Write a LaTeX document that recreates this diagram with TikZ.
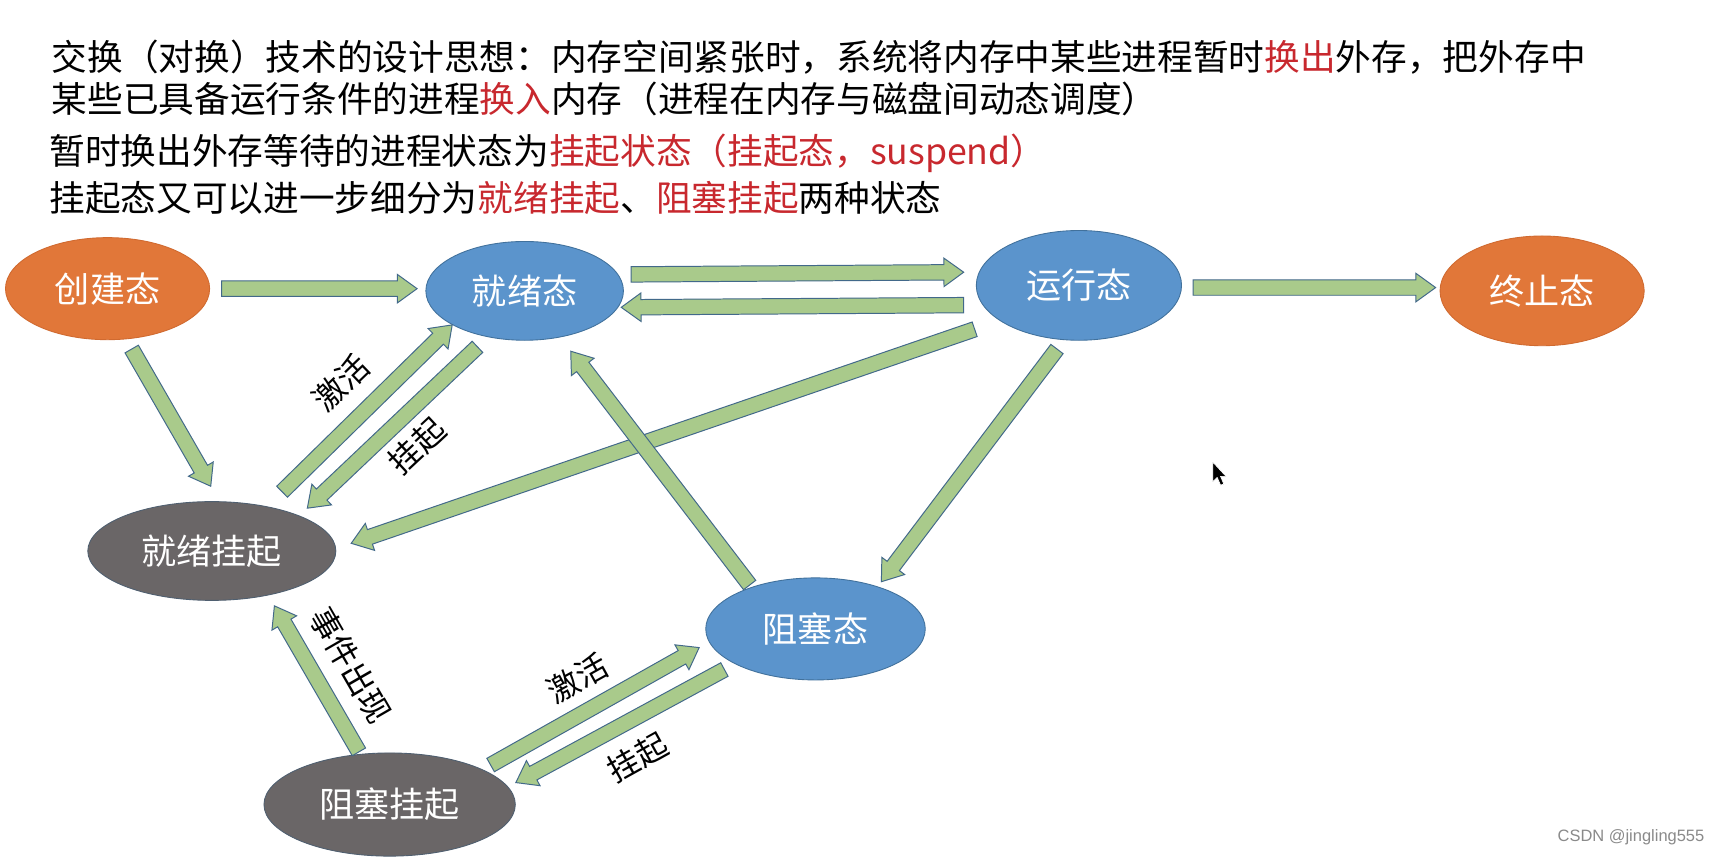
\documentclass[tikz,border=0pt]{standalone}
\usepackage{fontspec}
\setmainfont{Noto Sans CJK SC}
\newfontfamily\wmfont{Liberation Sans}
\usetikzlibrary{shapes.geometric,calc}
\definecolor{orangeS}{HTML}{E17739}
\definecolor{orangeL}{HTML}{D06A30}
\definecolor{blueS}{HTML}{5B94CC}
\definecolor{blueL}{HTML}{41719C}
\definecolor{grayS}{HTML}{6A6667}
\definecolor{grayL}{HTML}{4F5F70}
\definecolor{arrowfill}{HTML}{A9CA8B}
\definecolor{arrowline}{HTML}{42698A}
\definecolor{redS}{HTML}{C8282E}
\definecolor{wmgray}{HTML}{8A8A8A}
\tikzset{
  st/.style={ellipse, inner sep=0pt, line width=0.8pt, text=white,
    font=\fontsize{32}{34}\selectfont},
  stO/.style={st, fill=orangeS, draw=orangeL},
  stB/.style={st, fill=blueS, draw=blueL},
  stG/.style={st, fill=grayS, draw=grayL},
  toptext/.style={anchor=west, inner sep=0pt, font=\fontsize{32.5}{34}\selectfont},
  lab/.style={inner sep=0pt, font=\fontsize{29}{31}\selectfont},
  barrow/.style={draw=arrowline, fill=arrowfill, line width=0.9pt, line join=miter,
    to path={let \p1=(\tikztostart), \p2=(\tikztotarget),
      \n1={atan2(\y2-\y1,\x2-\x1)}, \n2={veclen(\x2-\x1,\y2-\y1)} in
      ($(\p1)+(\n1+90:7pt)$) -- ($(\p1)+(\n1:{\n2-18pt})+(\n1+90:7pt)$)
      -- ($(\p1)+(\n1:{\n2-18pt})+(\n1+90:13pt)$) -- (\p2)
      -- ($(\p1)+(\n1:{\n2-18pt})+(\n1-90:13pt)$)
      -- ($(\p1)+(\n1:{\n2-18pt})+(\n1-90:7pt)$)
      -- ($(\p1)+(\n1-90:7pt)$) -- cycle}}
}
\begin{document}
\begin{tikzpicture}[x=1pt,y=-1pt]
\fill[white] (0,0) rectangle (1568,782);
\useasboundingbox (0,0) rectangle (1568,782);

% top text
\node[toptext] (t1) at (47,52) {交换（对换）技术的设计思想：内存空间紧张时，系统将内存中某些进程暂时\textcolor{redS}{换出}外存，把外存中};
\node[toptext] (t2) at (47,90) {某些已具备运行条件的进程\textcolor{redS}{换入}内存（进程在内存与磁盘间动态调度）};
\node[toptext] (t3) at (45,140) {暂时换出外存等待的进程状态为\textcolor{redS}{挂起状态（挂起态，suspend）}};
\node[toptext] (t4) at (45,180) {挂起态又可以进一步细分为\textcolor{redS}{就绪挂起}、\textcolor{redS}{阻塞挂起}两种状态};

% states
\node[stO, minimum width=186pt, minimum height=93pt] (cj) at (98,263) {创建态};
\node[stB, minimum width=180pt, minimum height=90pt] (jx) at (478,265) {就绪态};
\node[stB, minimum width=187pt, minimum height=100pt] (yx) at (983,260) {运行态};
\node[stO, minimum width=186pt, minimum height=100pt] (zz) at (1405,265) {终止态};
\node[stG, minimum width=226pt, minimum height=90pt] (jg) at (193,502) {就绪挂起};
\node[stB, minimum width=200pt, minimum height=93pt] (zs) at (743,573) {阻塞态};
\node[stG, minimum width=229pt, minimum height=94pt] (zg) at (355,733) {阻塞挂起};

% arrows
\draw[barrow] ($(cj)+(104,0)$) to ($(jx)+(-98,-2)$);
\draw[barrow] ($(jx)+(97,-15)$) to ($(yx)+(-105,-12)$);
\draw[barrow] ($(yx)+(-105,18)$) to ($(jx)+(88,15)$);
\draw[barrow] ($(yx)+(104,2)$) to ($(zz)+(-97,-3)$);
\draw[barrow] ($(cj)+(22,55)$) to ($(jg)+(-1,-59)$);
\draw[barrow] ($(jg)+(64,-54)$) to ($(jx)+(-66,31)$);
\draw[barrow] ($(jx)+(-43,51)$) to ($(jg)+(87,-39)$);
\draw[barrow] ($(yx)+(-95,40)$) to ($(jg)+(127,-7)$);
\draw[barrow] ($(yx)+(-20,58)$) to ($(zs)+(60,-43)$);
\draw[barrow] ($(zs)+(-60,-40)$) to ($(jx)+(42,55)$);
\draw[barrow] ($(zg)+(-28,-48)$) to ($(jg)+(57,50)$);
\draw[barrow] ($(zg)+(92,-36)$) to ($(zs)+(-106,17)$);
\draw[barrow] ($(zs)+(-83,37)$) to ($(zg)+(115,-20)$);

% labels
\node[lab, rotate=44] (l1) at (311,349) {激活};
\node[lab, rotate=43] (l2) at (380,406) {挂起};
\node[lab, rotate=-60] (l3) at (320,606) {事件出现};
\node[lab, rotate=29] (l4) at (526,618) {激活};
\node[lab, rotate=29] (l5) at (581,690) {挂起};

% mouse cursor
\draw[fill=black, draw=white, line width=0.6pt, line join=round]
  (1105,421) -- (1105,439) -- (1109,435) -- (1112,442) -- (1115,441) -- (1112,434) -- (1117,434) -- cycle;

% watermark
\node[anchor=east, inner sep=0pt, text=wmgray, font=\wmfont\fontsize{15}{17}\selectfont] (wm) at (1553,763) {CSDN @jingling555};
\end{tikzpicture}
\end{document}
